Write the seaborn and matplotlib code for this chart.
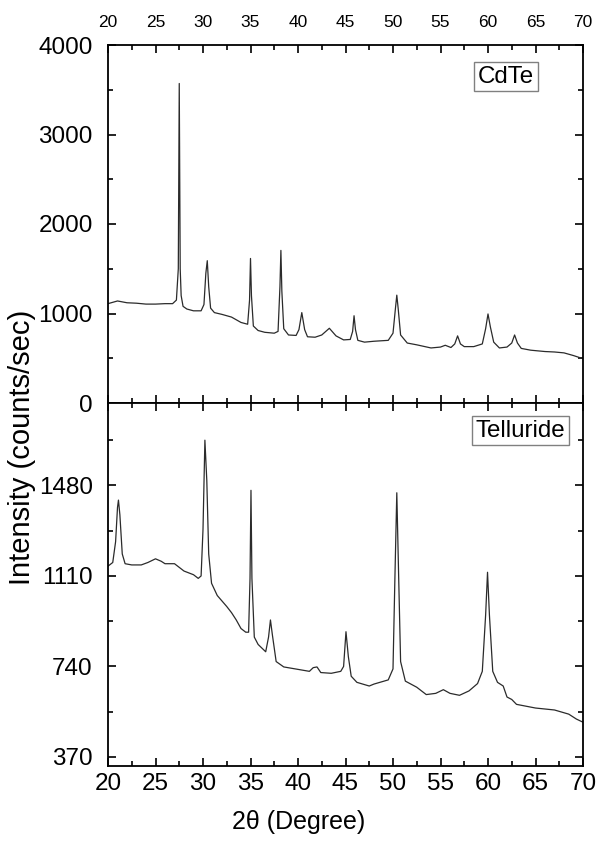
import pandas as pd
import matplotlib.pyplot as plt
import seaborn as sns
from matplotlib.ticker import MultipleLocator, FixedLocator

# CdTe pattern (2theta, counts/sec)
cdte_x = [20, 20.5, 21, 21.5, 22, 23, 24, 25, 26, 26.8, 27.2, 27.4, 27.5, 27.6, 27.7,
          27.9, 28.3, 29, 29.8, 30.1, 30.3, 30.45, 30.6, 30.8, 31.2, 32, 33, 33.5, 34,
          34.7, 34.9, 35.0, 35.1, 35.3, 35.8, 36.5, 37.5, 37.9, 38.1, 38.2, 38.3, 38.5,
          39, 39.8, 40.1, 40.4, 40.7, 41, 41.8, 42.5, 43.3, 44, 44.8, 45.5, 45.75, 45.9,
          46.05, 46.3, 47, 48, 49.5, 50.0, 50.25, 50.4, 50.55, 50.8, 51.5, 52.5, 54, 55,
          55.5, 56.1, 56.5, 56.8, 57.1, 57.5, 58.5, 59.4, 59.75, 60.0, 60.25, 60.6, 61.2,
          62.0, 62.5, 62.8, 63.1, 63.5, 64.5, 66, 67, 68, 69, 70]
cdte_y = [1110, 1125, 1140, 1130, 1120, 1115, 1105, 1105, 1110, 1110, 1150, 1500, 3570, 1500, 1200,
          1080, 1050, 1030, 1030, 1100, 1450, 1590, 1300, 1060, 1010, 990, 960, 930, 900,
          880, 1150, 1615, 1200, 860, 810, 790, 780, 800, 1300, 1705, 1250, 830,
          760, 755, 820, 1010, 820, 740, 735, 760, 835, 750, 705, 710, 800, 975,
          820, 700, 680, 690, 700, 780, 1050, 1205, 1050, 760, 670, 650, 615, 625,
          645, 620, 660, 750, 660, 630, 630, 660, 830, 995, 850, 680, 615,
          625, 670, 760, 670, 610, 590, 575, 570, 560, 530, 495]

# Telluride pattern
tel_x = [20, 20.5, 20.8, 21.0, 21.1, 21.25, 21.5, 21.8, 22.5, 23.5, 24.2, 25, 25.6, 26,
         27, 27.5, 28, 29, 29.5, 29.8, 30.0, 30.2, 30.4, 30.6, 30.9, 31.5, 32.5, 33,
         33.5, 34, 34.5, 34.8, 34.95, 35.05, 35.15, 35.4, 35.8, 36.6, 36.9, 37.1, 37.3,
         37.7, 38.5, 40, 41.2, 41.6, 42.0, 42.4, 43.5, 44.5, 44.8, 45.05, 45.3, 45.6,
         46.2, 47.5, 48, 49.5, 50.0, 50.2, 50.4, 50.6, 50.8, 51.3, 52.5, 53.5, 54.5,
         55.3, 56.0, 57, 58, 58.9, 59.4, 59.75, 59.95, 60.15, 60.5, 61.0, 61.6, 62.0,
         62.5, 63, 65, 67, 68.5, 69.3, 70]
tel_y = [1150, 1165, 1250, 1390, 1420, 1360, 1200, 1160, 1155, 1155, 1165, 1180, 1170, 1160,
         1160, 1145, 1130, 1115, 1100, 1110, 1300, 1665, 1500, 1200, 1080, 1030, 985, 960,
         930, 895, 880, 880, 1100, 1460, 1100, 860, 830, 800, 860, 930, 870,
         760, 738, 728, 720, 735, 738, 715, 712, 720, 740, 882, 780, 700,
         675, 660, 668, 685, 730, 1100, 1450, 1100, 760, 680, 655, 625, 630,
         645, 630, 622, 640, 670, 720, 950, 1125, 950, 720, 675, 660, 615,
         605, 585, 570, 562, 545, 525, 512]

x_ticks = [20, 25, 30, 35, 40, 45, 50, 55, 60, 65, 70]
cdte_ticks = [0, 1000, 2000, 3000, 4000]
tel_ticks = [370, 740, 1110, 1480]

cdte = pd.DataFrame({'two_theta': cdte_x, 'intensity': cdte_y})
tel = pd.DataFrame({'two_theta': tel_x, 'intensity': tel_y})

sns.set_style('ticks')
plt.rcParams['font.family'] = ['Liberation Sans', 'DejaVu Sans']
plt.rcParams['text.color'] = 'black'
plt.rcParams['xtick.color'] = 'black'
plt.rcParams['ytick.color'] = 'black'
plt.rcParams['xtick.labelcolor'] = 'black'
plt.rcParams['ytick.labelcolor'] = 'black'

fig = plt.figure(figsize=(5.98, 8.59), dpi=100)
W, H = 598, 859
ax1 = fig.add_axes([108 / W, 1 - 403 / H, 475 / W, 358 / H])
ax2 = fig.add_axes([108 / W, 1 - 766 / H, 475 / W, 363 / H])

line_kw = dict(color='#2b2b2b', lw=0.9, estimator=None, sort=False)
sns.lineplot(data=cdte, x='two_theta', y='intensity', ax=ax1, **line_kw)
sns.lineplot(data=tel, x='two_theta', y='intensity', ax=ax2, **line_kw)

for ax in (ax1, ax2):
    ax.set_xlim(20, 70)
    ax.xaxis.set_major_locator(FixedLocator(x_ticks))
    ax.xaxis.set_minor_locator(MultipleLocator(2.5))
    ax.set_xlabel('')
    ax.set_ylabel('')
    for s in ax.spines.values():
        s.set_linewidth(1.3)
        s.set_color('black')
    ax.tick_params(which='both', direction='in', top=True, right=True,
                   width=1.2, color='black', labelcolor='black')
    ax.tick_params(which='major', length=6)
    ax.tick_params(which='minor', length=3.5)

ax1.set_ylim(0, 4000)
ax1.yaxis.set_major_locator(FixedLocator(cdte_ticks))
ax1.yaxis.set_minor_locator(MultipleLocator(500))
ax1.tick_params(axis='x', labeltop=True, labelbottom=False, labelsize=12.5, pad=11)
ax1.tick_params(axis='y', labelsize=17.5, pad=11)

ax2.set_ylim(333, 1817)
ax2.yaxis.set_major_locator(FixedLocator(tel_ticks))
ax2.yaxis.set_minor_locator(MultipleLocator(185))
ax2.tick_params(axis='x', labelsize=17.5, pad=5)
ax2.tick_params(axis='y', labelsize=17.5, pad=11)

box = dict(boxstyle='square,pad=0.15', fc='white', ec='#808080', lw=1)
ax1.text(0.897, 0.9425, 'CdTe', transform=ax1.transAxes, ha='right', va='top',
         fontsize=17.4, color='black', bbox=box)
ax2.text(0.963, 0.954, 'Telluride', transform=ax2.transAxes, ha='right', va='top',
         fontsize=17.4, color='black', bbox=box)

fig.text(22 / W, 1 - 447 / H, 'Intensity (counts/sec)', rotation=90,
         ha='center', va='center', fontsize=21, color='black')
fig.text(0.5, 1 - 822 / H, '2θ (Degree)', ha='center', va='center', fontsize=18,
         color='black')

fig.savefig('out.png', dpi=100)
